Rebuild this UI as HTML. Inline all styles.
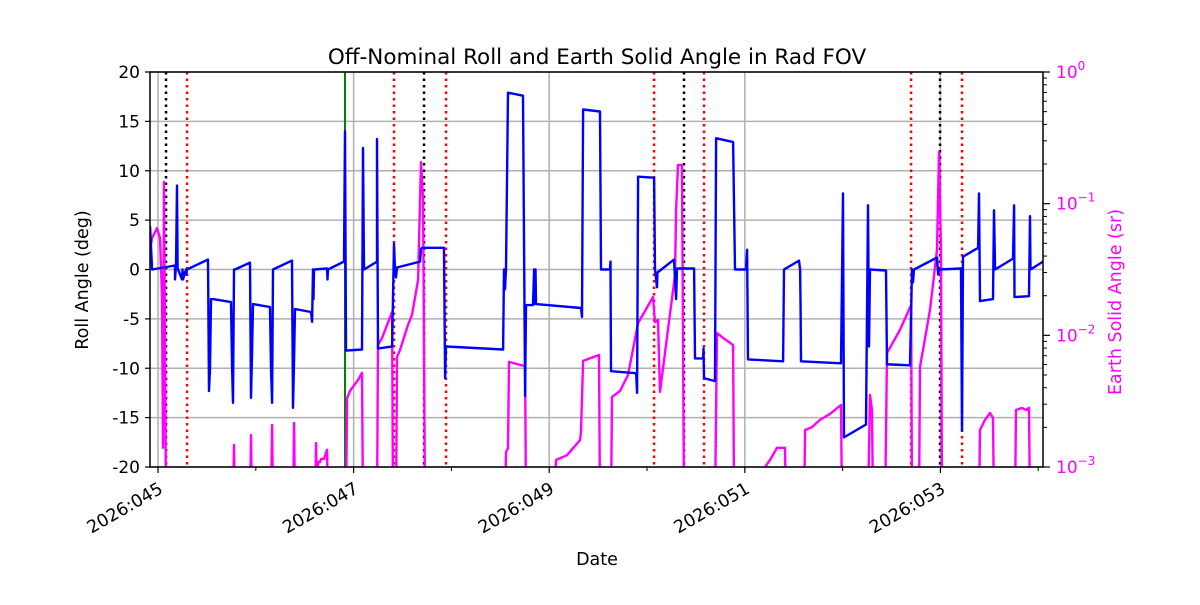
<!DOCTYPE html>
<html><head><meta charset="utf-8"><style>
body{margin:0;background:#fff}
svg{font-family:"DejaVu Sans","Liberation Sans",sans-serif}
</style></head><body>
<svg id="chart" width="1200" height="600" viewBox="0 0 1200 600">
<rect width="1200" height="600" fill="#fff"/>
<text x="597" y="64" font-size="21.5" text-anchor="middle">Off-Nominal Roll and Earth Solid Angle in Rad FOV</text>
<g id="grid"></g>
<g id="vlines"></g>
<defs><clipPath id="clip"><rect x="150" y="72" width="893" height="395"/></clipPath></defs>
<g id="series" clip-path="url(#clip)"></g>
<rect x="150" y="72" width="893" height="395" fill="none" stroke="#000" stroke-width="1.5"/>
<g id="axes"></g>
<text x="597" y="565" font-size="17.5" text-anchor="middle">Date</text>
<text transform="translate(88,280) rotate(-90)" font-size="17.5" text-anchor="middle">Roll Angle (deg)</text>
<text transform="translate(1121,302) rotate(-90)" font-size="17.5" text-anchor="middle" fill="#ff00ff">Earth Solid Angle (sr)</text>
</svg>
<script>
const rollDays=[44.918,44.939,45.174,45.174,45.184,45.194,45.200,45.205,45.245,45.250,45.255,45.286,45.290,45.295,45.511,45.521,45.531,45.542,45.562,45.746,45.757,45.767,45.777,45.787,45.941,45.951,45.961,45.971,46.145,46.155,46.166,46.176,46.370,46.380,46.391,46.401,46.564,46.575,46.585,46.590,46.595,46.728,46.733,46.738,46.902,46.912,46.922,46.933,47.086,47.096,47.106,47.239,47.239,47.249,47.393,47.413,47.423,47.433,47.444,47.679,47.689,47.699,47.924,47.935,47.945,48.528,48.538,48.548,48.558,48.579,48.732,48.753,48.763,48.834,48.845,48.855,48.860,48.865,49.325,49.335,49.346,49.519,49.530,49.622,49.627,49.632,49.888,49.899,49.909,50.072,50.082,50.102,50.107,50.276,50.297,50.307,50.481,50.491,50.573,50.578,50.583,50.695,50.706,50.880,50.900,51.012,51.023,51.033,51.391,51.401,51.554,51.565,51.570,51.575,51.984,52.004,52.014,52.239,52.260,52.270,52.280,52.444,52.454,52.689,52.710,52.720,52.730,52.965,52.976,52.986,53.211,53.221,53.231,53.385,53.395,53.405,53.538,53.548,53.559,53.742,53.753,53.758,53.906,53.916,53.921,54.049];
const rollDeg=[4.4,0,0.4,-1,0.3,8.5,0.2,0,-1,0,-1,0,-0.5,0,1.0,-12.3,-10,-3,-3,-3.3,-10,-13.5,0,0,0.7,-13,-8.7,-3.5,-3.8,-10,-13.5,0,0.9,-14,-9,-4,-4.3,-5.3,0,-3,0,0.1,-1,0,0.8,14,-8.2,-8.2,-8.1,12.3,0,0.8,13.2,-8.0,-7.8,2.6,0,-0.8,0.2,0.8,2.1,2.2,2.2,-11,-7.8,-8.1,0,-2,0,17.9,17.6,-12.8,-3.6,-3.6,0,-3.5,0,-3.5,-3.9,-4.8,16.2,16.0,0,0,0.8,-10.3,-10.5,-12.5,9.4,9.3,0,-1.8,-0.3,1.0,-3,0.1,0.1,-9,-9,-8,-11,-11.3,13.3,12.9,0,0,2,-9.1,-9.3,0,0.9,0,-4,-9.3,-9.5,7.7,-17,-15.7,6.5,-7.8,0,-0.1,-9.6,-9.7,0,-1.3,0,1.2,-0.5,0,0.1,-16.3,1.3,2.2,7.7,-3.2,-3.0,6,0,1.1,6.5,-2.8,-2.7,5.4,0,0.8];
const saDays=[44.918,44.939,44.990,45.020,45.041,45.051,45.061,45.082,
45.767,45.777,45.787,45.941,45.951,45.961,46.155,46.166,46.176,46.380,46.391,46.401,46.605,46.616,46.626,46.636,46.657,46.667,46.697,46.728,46.738,
46.922,46.933,46.963,46.984,47.045,47.086,47.096,
47.239,47.249,47.290,47.393,47.403,
47.434,47.444,47.474,47.556,47.597,47.659,47.689,47.710,47.730,
48.548,48.558,48.579,48.589,48.702,48.753,48.763,
49.039,49.070,49.182,49.315,49.325,49.346,49.509,49.519,
49.632,49.642,49.724,49.806,49.909,50.061,50.082,50.112,50.133,50.286,50.297,50.317,50.358,50.378,
50.695,50.716,50.767,50.880,50.890,
51.207,51.258,51.329,51.411,51.421,
51.606,51.616,51.687,51.769,51.871,51.984,51.994,
52.260,52.280,52.301,52.311,
52.434,52.454,52.587,52.700,52.710,
52.781,52.791,52.894,52.965,52.986,53.006,53.016,
53.395,53.405,53.456,53.507,53.538,53.548,
53.763,53.773,53.834,53.875,53.906,53.916];
const saValues=[0.0445,0.055,0.065,0.055,0.02,0.0014,0.146,0.0005,
0.0005,0.00147,0.0005,0.0005,0.00175,0.0005,0.0005,0.00208,0.0005,0.0005,0.00216,0.0005,0.0005,0.00152,0.0005,0.00109,0.00109,0.00115,0.00115,0.00135,0.0005,
0.0005,0.00334,0.00378,0.00398,0.00458,0.00518,0.0005,
0.0005,0.00845,0.00955,0.0150,0.0005,
0.0005,0.00684,0.00774,0.0120,0.0143,0.0263,0.207,0.107,0.0005,
0.0005,0.0013,0.00139,0.00628,0.00596,0.00585,0.0005,
0.0005,0.00113,0.00123,0.0016,0.00185,0.0064,0.00709,0.0005,
0.0005,0.0034,0.00378,0.005,0.0124,0.0195,0.0126,0.0131,0.00372,0.0287,0.0895,0.197,0.197,0.0005,
0.0005,0.0104,0.0097,0.00845,0.0005,
0.001,0.00113,0.0014,0.0014,0.0005,
0.0005,0.00191,0.00201,0.00228,0.00253,0.00296,0.0005,
0.0005,0.00352,0.00271,0.0005,
0.0005,0.00734,0.011,0.017,0.0005,
0.0005,0.00575,0.0156,0.0445,0.247,0.0445,0.0005,
0.0005,0.00191,0.00228,0.00257,0.00236,0.0005,
0.0005,0.00271,0.00281,0.00271,0.00281,0.0005];
const blackEvents=[45.082,47.720,50.378,52.996];
const redEvents=[45.297,47.413,47.945,50.072,50.583,52.700,53.221];
const greenEvents=[46.912];
const yTicks=[-20,-15,-10,-5,0,5,10,15,20];
const xTickDays=[45,47,49,51,53];
const xTickLabels=["2026:045","2026:047","2026:049","2026:051","2026:053"];
const xMinorDays=[46,48,50,52,54];
const y2Exps=[0,-1,-2,-3];

const NS="http://www.w3.org/2000/svg";
const X=d=>150+(d-44.918)/(54.049-44.918)*893;
const Y=v=>467-(v+20)/40*395;
const Y2=v=>72-Math.log10(v)*131.667;
function mk(t,a,p){const e=document.createElementNS(NS,t);for(const k in a)e.setAttribute(k,a[k]);p.appendChild(e);return e;}
const grid=document.getElementById('grid'),vl=document.getElementById('vlines'),ser=document.getElementById('series'),ax=document.getElementById('axes');
yTicks.forEach(v=>{
 const g=mk('line',{x1:150,x2:1043,y1:Y(v),y2:Y(v),stroke:'#b0b0b0','stroke-width':1.5},grid);
 
 
 const t=mk('line',{x1:145,x2:150,y1:Y(v),y2:Y(v),stroke:'#000','stroke-width':1.2},ax);
 
 
 const l=mk('text',{x:140,y:Y(v)+6,'font-size':17,'text-anchor':'end'},ax);
 
 
 l.textContent=v;
});
xTickDays.forEach((d,i)=>{
 const g=mk('line',{x1:X(d),x2:X(d),y1:72,y2:467,stroke:'#b0b0b0','stroke-width':1.5},grid);
 
 
 const t=mk('line',{x1:X(d),x2:X(d),y1:467,y2:473,stroke:'#000','stroke-width':1.2},ax);
 
 
 const l=mk('text',{transform:`translate(${X(d)+6},${492}) rotate(-30)`,'font-size':17.5,'text-anchor':'end'},ax);
 
 
 l.textContent=xTickLabels[i];
});
xMinorDays.forEach(d=>{
 if(X(d)>1043)return;
 const t=mk('line',{x1:X(d),x2:X(d),y1:467,y2:471,stroke:'#000','stroke-width':1},ax);
 
 
});
y2Exps.forEach(e=>{
 const y=Y2(Math.pow(10,e));
 const t=mk('line',{x1:1043,x2:1050,y1:y,y2:y,stroke:'#000','stroke-width':1.2},ax);
 
 
 const l=mk('text',{x:1056,y:y+6,'font-size':17,fill:'#ff00ff'},ax);
 
 
 l.innerHTML=`10<tspan dy="-8" font-size="12">${e===0?'0':'\u2212'+(-e)}</tspan>`;
 if(e>-3)for(let m=2;m<=9;m++){
  const ym=Y2(m*Math.pow(10,e-1));
  const mt=mk('line',{x1:1043,x2:1047,y1:ym,y2:ym,stroke:'#000','stroke-width':1},ax);
  
  
 }
});
function vline(d,c,dash,name){
 const l=mk('line',{x1:X(d),x2:X(d),y1:72,y2:467,stroke:c,'stroke-width':dash?2.5:2,'stroke-dasharray':dash?'2.5,4':'none'},vl);
 
 
}
blackEvents.forEach(d=>vline(d,'#000',true,'black-event-line'));
redEvents.forEach(d=>vline(d,'#ff0000',true,'red-event-line'));
greenEvents.forEach(d=>vline(d,'#008000',false,'green-event-line'));
const mp=mk('path',{d:'M'+saDays.map((d,i)=>X(d).toFixed(1)+','+Y2(saValues[i]).toFixed(1)).join('L'),fill:'none',stroke:'#ff00ff','stroke-width':2.4,'stroke-linejoin':'round'},ser);


const bp=mk('path',{d:'M'+rollDays.map((d,i)=>X(d).toFixed(1)+','+Y(rollDeg[i]).toFixed(1)).join('L'),fill:'none',stroke:'#0000ff','stroke-width':2.4,'stroke-linejoin':'round'},ser);


</script>
</body></html>
